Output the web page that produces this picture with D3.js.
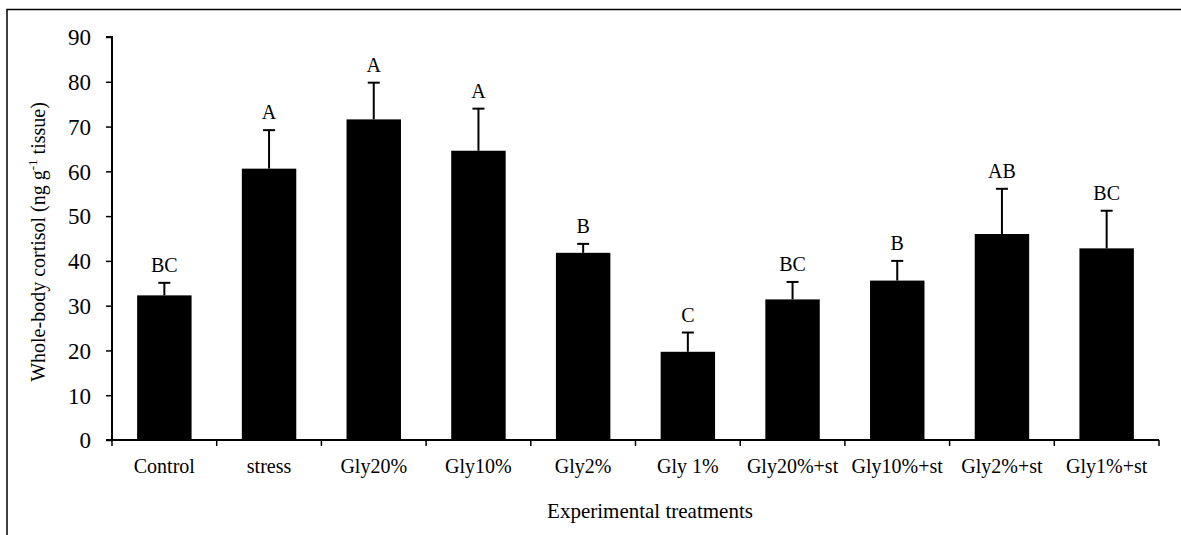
<!DOCTYPE html>
<html>
<head>
<meta charset="utf-8">
<script src="https://cdn.jsdelivr.net/npm/d3@7"></script>
<style>
  html, body { margin: 0; padding: 0; background: #fff; }
  svg { display: block; }
  text { font-family: "Liberation Serif", "Times New Roman", serif; fill: #000; }
</style>
</head>
<body>
<svg id="chart" width="1181" height="535"></svg>
<script>
// Treatment groups
const categories = ["Control", "stress", "Gly20%", "Gly10%", "Gly2%", "Gly 1%",
                    "Gly20%+st", "Gly10%+st", "Gly2%+st", "Gly1%+st"];
// Mean whole-body cortisol (ng g-1 tissue)
const means = [32.3, 60.6, 71.6, 64.6, 41.8, 19.7, 31.4, 35.6, 46.0, 42.8];
// Upper error (mean + SE)
const upper = [35.1, 69.2, 79.8, 74.0, 43.8, 24.0, 35.3, 40.0, 56.1, 51.2];
// Significance letters
const letters = ["BC", "A", "A", "A", "B", "C", "BC", "B", "AB", "BC"];
const yTicks = [0, 10, 20, 30, 40, 50, 60, 70, 80, 90];

const svg = d3.select("#chart");

// Outer frame (left and top edges)
svg.append("path")
  .attr("d", "M7,535 V9.5 H1181")
  .attr("fill", "none").attr("stroke", "#000").attr("stroke-width", 1.5);

const plotL = 112, plotR = 1159, plotT = 37, plotB = 440;

const x = d3.scaleBand().domain(categories).range([plotL, plotR]).paddingInner(0.48).paddingOuter(0.24);
const xb = d3.scaleLinear().domain([0, categories.length]).range([plotL, plotR]);
const y = d3.scaleLinear().domain([0, 90]).range([plotB, plotT]);

// Bars
svg.append("g").selectAll("rect").data(categories).join("rect")
  .attr("x", d => x(d))
  .attr("width", x.bandwidth())
  .attr("y", (d, i) => y(means[i]))
  .attr("height", (d, i) => y(0) - y(means[i]))
  .attr("fill", "#000");

// Error bars
const eb = svg.append("g").attr("stroke", "#000").attr("stroke-width", 2);
categories.forEach((c, i) => {
  const cx = x(c) + x.bandwidth() / 2;
  eb.append("line").attr("x1", cx).attr("x2", cx).attr("y1", y(means[i])).attr("y2", y(upper[i]));
  eb.append("line").attr("x1", cx - 6).attr("x2", cx + 6).attr("y1", y(upper[i])).attr("y2", y(upper[i]));
});

// Significance letters
svg.append("g").selectAll("text").data(categories).join("text")
  .attr("x", d => x(d) + x.bandwidth() / 2)
  .attr("y", (d, i) => y(upper[i]) - 11)
  .attr("text-anchor", "middle")
  .style("font-size", "20px")
  .text((d, i) => letters[i]);

// Y axis
const yAxis = svg.append("g").attr("transform", `translate(${plotL},0)`)
  .call(d3.axisLeft(y).tickValues(yTicks).tickSize(6).tickPadding(15));
yAxis.attr("font-family", null).attr("font-size", null);
yAxis.selectAll("text").style("font-size", "23px").attr("dy", "0.34em");
yAxis.select(".domain").attr("stroke-width", 2).attr("d", `M-6,${plotT}H0V${plotB}H-6`);
yAxis.selectAll(".tick line").attr("stroke-width", 1.5);

// X axis: ticks at category boundaries
const xAxisG = svg.append("g").attr("transform", `translate(0,${plotB})`);
xAxisG.append("line").attr("x1", plotL).attr("x2", plotR).attr("y1", 0).attr("y2", 0)
  .attr("stroke", "#000").attr("stroke-width", 2);
xAxisG.selectAll("line.tk").data(d3.range(categories.length + 1)).join("line")
  .attr("class", "tk")
  .attr("x1", d => xb(d)).attr("x2", d => xb(d))
  .attr("y1", 0).attr("y2", 6)
  .attr("stroke", "#000").attr("stroke-width", 1.5);
xAxisG.selectAll("text").data(categories).join("text")
  .attr("x", d => x(d) + x.bandwidth() / 2)
  .attr("y", 33)
  .attr("text-anchor", "middle")
  .style("font-size", "20px")
  .text(d => d);

// Axis titles
svg.append("text")
  .attr("x", 650).attr("y", 518)
  .attr("text-anchor", "middle").style("font-size", "21px")
  .text("Experimental treatments");

const yt = svg.append("text")
  .attr("transform", "translate(45,242) rotate(-90)")
  .attr("text-anchor", "middle").style("font-size", "20px");
yt.append("tspan").text("Whole-body cortisol (ng g");
yt.append("tspan").attr("dy", -8).style("font-size", "13px").text("-1");
yt.append("tspan").attr("dy", 8).text(" tissue)");
</script>
</body>
</html>
